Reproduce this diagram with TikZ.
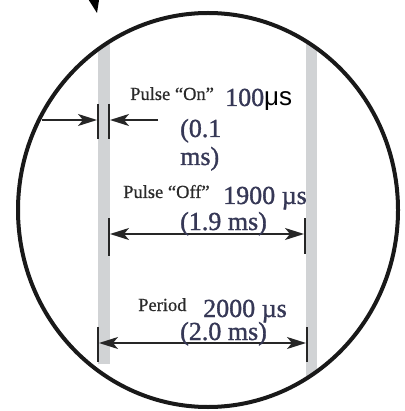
\documentclass[tikz,border=0pt]{standalone}
\usepackage{fontspec}
\setmainfont{Liberation Serif}
\newfontfamily\arialfont{Liberation Sans}
\newfontface\numfont{Liberation Serif}[FakeBold=1.2]
\newfontface\lblfont{Liberation Serif}[FakeBold=0.6]
\usepackage{xcolor}
\usetikzlibrary{arrows.meta}
\definecolor{numink}{HTML}{363856}
\definecolor{labink}{HTML}{2A2A2A}
\definecolor{bargray}{HTML}{D1D3D5}

\begin{document}
\begin{tikzpicture}[x=1pt, y=-1pt,
        lbl/.style={anchor=base west, inner sep=0pt, text=labink, font=\lblfont\fontsize{18.5}{20}\selectfont},
        num/.style={anchor=base west, inner sep=0pt, text=numink, font=\numfont\fontsize{26}{28}\selectfont},
        tick/.style={line width=2pt, black!85},
        dim/.style={line width=1.6pt, black!85, -{Stealth[length=19pt, width=12pt, inset=5pt]}},
        dimboth/.style={line width=1.6pt, black!85, {Stealth[length=19pt, width=12pt, inset=5pt]}-{Stealth[length=19pt, width=12pt, inset=5pt]}}]
        \useasboundingbox (0,0) rectangle (404,411);
        % gray pulse edges inside the circle
        \begin{scope}
            \clip (208,210) ellipse [x radius=189, y radius=196];
            \fill[bargray] (98,0) rectangle (110,364);
            \fill[bargray] (306,0) rectangle (317,411);
        \end{scope}
        \draw[line width=4pt, black!90] (208,210) ellipse [x radius=190, y radius=197];
        % pointer from above
        \coordinate (ptrA) at (86,-40);
        \coordinate (ptrB) at (97,13);
        \draw[line width=2pt, -{Stealth[length=24pt, width=18pt]}] (ptrA) -- (ptrB);

        % pulse on
        \coordinate (onT1) at (98,104); \coordinate (onB1) at (98,139);
        \coordinate (onT2) at (109,104); \coordinate (onB2) at (109,139);
        \draw[tick] (onT1) -- (onB1);
        \draw[tick] (onT2) -- (onB2);
        \coordinate (onFromL) at (42,120); \coordinate (onToL) at (97,120);
        \coordinate (onFromR) at (158,120); \coordinate (onToR) at (110,120);
        \draw[dim] (onFromL) -- (onToL);
        \draw[dim] (onFromR) -- (onToR);
        \node[lbl] (onlbl) at (130,100) {Pulse “On”};
        \node[num] (onval) at (225,106) {100{\arialfont\fontsize{26}{28}\selectfont\color{black} μs}};
        \node[num] (onms1) at (180,137) {(0.1};
        \node[num] (onms2) at (180,165) {ms)};

        % pulse off
        \coordinate (offT1) at (109,218); \coordinate (offB1) at (109,256);
        \coordinate (offT2) at (305,218); \coordinate (offB2) at (305,254);
        \draw[tick] (offT1) -- (offB1);
        \draw[tick] (offT2) -- (offB2);
        \coordinate (offL) at (110,234); \coordinate (offR) at (304,234);
        \draw[dimboth] (offL) -- (offR);
        \node[lbl] (offlbl) at (123,198) {Pulse “Off”};
        \node[num] (offval) at (223,204) {1900 µs};
        \node[num] (offms) at (180,230) {(1.9 ms)};

        % period
        \coordinate (perT1) at (98,327); \coordinate (perB1) at (98,362);
        \coordinate (perT2) at (307,327); \coordinate (perB2) at (307,362);
        \draw[tick] (perT1) -- (perB1);
        \draw[tick] (perT2) -- (perB2);
        \coordinate (perL) at (99,343); \coordinate (perR) at (306,343);
        \draw[dimboth] (perL) -- (perR);
        \node[lbl] (perlbl) at (138,311) {Period};
        \node[num] (perval) at (203,317) {2000 µs};
        \node[num] (perms) at (180,340) {(2.0 ms)};
    \end{tikzpicture}
\end{document}
